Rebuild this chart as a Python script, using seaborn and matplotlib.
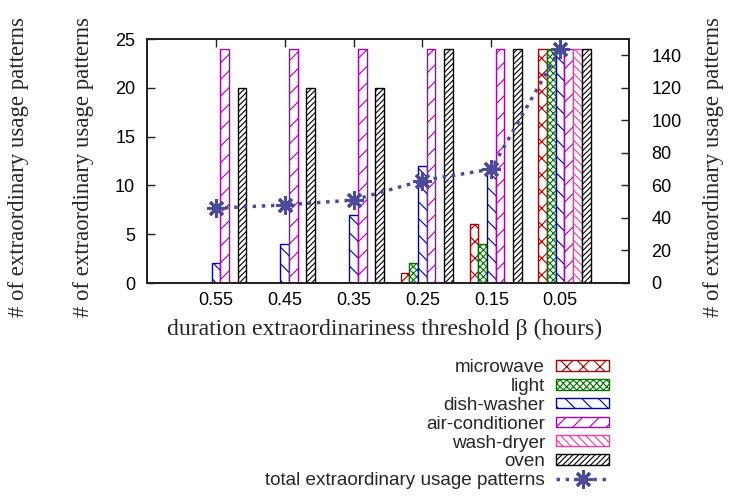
import numpy as np
import pandas as pd
import matplotlib
matplotlib.use("Agg")
import matplotlib.pyplot as plt
import seaborn as sns
from matplotlib.patches import Patch
from matplotlib.lines import Line2D
from matplotlib.colors import to_rgb

# ---------------- data ----------------
thresholds = ["0.55", "0.45", "0.35", "0.25", "0.15", "0.05"]
appliances = ["microwave", "light", "dish-washer", "air-conditioner", "wash-dryer", "oven"]
microwave = [0, 0, 0, 1, 6, 24]
light = [0, 0, 0, 2, 4, 24]
dish_washer = [2, 4, 7, 12, 12, 24]
air_conditioner = [24, 24, 24, 24, 24, 24]
wash_dryer = [0, 0, 0, 0, 0, 24]
oven = [20, 20, 20, 24, 24, 24]
total = [46, 48, 51, 63, 70, 144]
total_label = "total extraordinary usage patterns"
ylabel = "# of extraordinary usage patterns"
xlabel = "duration extraordinariness threshold \u03b2 (hours)"

# ---------------- style ----------------
colors = ["#a00000", "#007000", "#0000a0", "#a800b0", "#ff3c9c", "#000000"]
hatches = ["xx", "xxxxx", "\\\\", "//", "\\\\\\\\", "//////"]
line_color = "#4b4b99"

sns.set_theme(style="ticks")
plt.rcParams["font.family"] = ["Liberation Sans", "DejaVu Sans"]
plt.rcParams["hatch.linewidth"] = 0.8
serif = ["Liberation Serif", "DejaVu Serif"]

W, H = 739, 497
fig = plt.figure(figsize=(W / 100, H / 100), dpi=100)
L, R, T, B = 147, 629, 39, 283
ax = fig.add_axes([L / W, 1 - B / H, (R - L) / W, (B - T) / H])

values = [microwave, light, dish_washer, air_conditioner, wash_dryer, oven]
rows = []
for app, vals in zip(appliances, values):
    for th, v in zip(thresholds, vals):
        if v > 0:
            rows.append({"threshold": th, "appliance": app, "count": v})
df = pd.DataFrame(rows)

group_w = 0.756
bar_w = group_w / len(appliances)
sns.barplot(data=df, x="threshold", y="count", hue="appliance",
            order=thresholds, hue_order=appliances, palette=colors,
            width=group_w, gap=0, saturation=1, legend=False,
            linewidth=1.0, ax=ax)

pal_rgb = [np.array(to_rgb(c)) for c in colors]
for p in ax.patches:
    fc = np.array(p.get_facecolor()[:3])
    k = int(np.argmin([np.sum((fc - c) ** 2) for c in pal_rgb]))
    p.set_facecolor("white")
    p.set_edgecolor(colors[k])
    p.set_hatch(hatches[k])
    p.set_linewidth(1.0)

pos = np.arange(len(thresholds)) - bar_w / 2
ax.set_xlim(-1 - bar_w / 2, len(thresholds) - bar_w / 2)
ax.set_ylim(0, 25)
ax.set_yticks([0, 5, 10, 15, 20, 25])
ax.set_xticks(pos, thresholds)

ax2 = ax.twinx()
sns.lineplot(x=pos, y=total, ax=ax2, color=line_color, linestyle=":",
             linewidth=2.5, marker=(8, 2, 0), markersize=13,
             markeredgewidth=2.2, markeredgecolor=line_color)
ax2.set_ylim(0, 150)
ax2.set_yticks([0, 20, 40, 60, 80, 100, 120, 140])
ax2.set_xlim(ax.get_xlim())

for a in (ax, ax2):
    for s in a.spines.values():
        s.set_color("#222222")
        s.set_linewidth(1.3)

ax.tick_params(axis="y", direction="in", length=6, width=1, left=True, right=False,
               labelsize=13, pad=8.5, colors="#222222", labelcolor="black")
ax.tick_params(axis="x", direction="in", length=6, width=1, top=True, bottom=True,
               labelsize=13, pad=6.5, colors="#222222", labelcolor="black")
ax2.tick_params(axis="y", direction="in", length=6, width=1, labelsize=13,
                pad=16, colors="#222222", labelcolor="black")

ax.set_xlabel(xlabel, fontfamily=serif, fontsize=17.1, va="baseline", ha="center")
ax.xaxis.set_label_coords((385 - L) / (R - L), (B - 335) / (B - T))
ax.set_ylabel(ylabel, fontfamily=serif, fontsize=16.4, va="center", ha="center")
ax.yaxis.set_label_coords((84 - L) / (R - L), (B - 167) / (B - T))
ax2.set_ylabel(ylabel, fontfamily=serif, fontsize=16.4, va="center", ha="center")
ax2.yaxis.set_label_coords((713 - L) / (R - L), (B - 167) / (B - T))
fig.text(19 / W, 1 - 167 / H, ylabel, fontfamily=serif, fontsize=16.4,
         rotation=90, va="center", ha="center")

handles = [Patch(facecolor="white", edgecolor=c, hatch=h, linewidth=1.0)
           for c, h in zip(colors, hatches)]
handles.append(Line2D([], [], color=line_color, linestyle=":", linewidth=2.5,
                      marker=(8, 2, 0), markersize=13, markeredgewidth=2.2))
labels = appliances + [total_label]
fig.legend(handles, labels, loc="upper right", bbox_to_anchor=(609 / W, 1 - 359 / H),
           frameon=False, markerfirst=False, fontsize=13.6, borderpad=0,
           borderaxespad=0, labelspacing=0.1, handlelength=2.8, handleheight=0.5,
           handletextpad=0.58, numpoints=1)

fig.savefig("out.png", dpi=100)
